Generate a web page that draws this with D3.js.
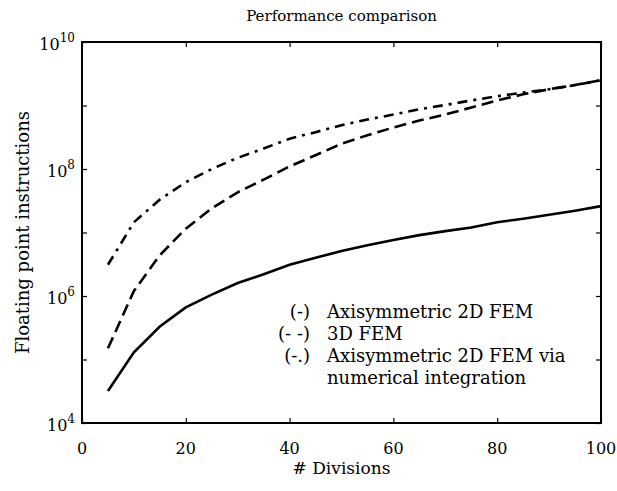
<!DOCTYPE html>
<html>
<head>
<meta charset="utf-8">
<script src="https://cdn.jsdelivr.net/npm/d3@7"></script>
<style>
    body { margin: 0; background: #fff; }
    text { font-family: "DejaVu Serif", "Liberation Serif", serif; fill: #000; }
</style>
</head>
<body>
<svg id="chart" width="617" height="491" viewBox="0 0 617 491"></svg>
<script>
// number of divisions
const divisions = [5, 10, 15, 20, 25, 30, 35, 40, 45, 50, 55, 60, 65, 70, 75, 80, 85, 90, 95, 100]

// floating point instructions
const axi_2d = [3.2e4, 1.3e5, 3.3e5, 6.6e5, 1.05e6, 1.6e6, 2.2e6, 3.1e6, 4.0e6, 5.1e6,
    6.3e6, 7.6e6, 9.1e6, 1.05e7, 1.2e7, 1.45e7, 1.65e7, 1.9e7, 2.2e7, 2.6e7]
const fem_3d = [1.5e5, 1.2e6, 4.4e6, 1.15e7, 2.4e7, 4.3e7, 6.8e7, 1.1e8, 1.65e8, 2.5e8,
    3.4e8, 4.5e8, 5.8e8, 7.2e8, 9.3e8, 1.2e9, 1.5e9, 1.8e9, 2.1e9, 2.5e9]
const axi_2d_numint = [3.1e6, 1.45e7, 3.3e7, 6.2e7, 1.0e8, 1.5e8, 2.1e8, 3.0e8, 3.8e8, 4.9e8,
    6.0e8, 7.2e8, 8.7e8, 1.02e9, 1.2e9, 1.4e9, 1.6e9, 1.8e9, 2.1e9, 2.5e9]

const x_ticks = [0, 20, 40, 60, 80, 100]
const y_ticks = [1e4, 1e5, 1e6, 1e7, 1e8, 1e9, 1e10]
const y_labels = [4, 6, 8, 10]   // exponents that get a label

const legend_marks = ["(-)", "(- -)", "(-.)", ""]
const legend_texts = ["Axisymmetric 2D FEM", "3D FEM", "Axisymmetric 2D FEM via", "numerical integration"]

const svg = d3.select("#chart")
const margin = {top: 42, right: 16, bottom: 68, left: 82}
const width = 617 - margin.left - margin.right
const height = 491 - margin.top - margin.bottom

const main_group = svg.append("g")
    .attr("transform", `translate(${margin.left},${margin.top})`)

const x = d3.scaleLinear().domain([0, 100]).range([0, width])
const y = d3.scaleLog().domain([1e4, 1e10]).range([height, 0])

// ticks pointing inwards on all four sides
const tick_len = 5
main_group.append("g")
    .attr("transform", `translate(0,${height})`)
    .call(d3.axisBottom(x).tickValues(x_ticks).tickSizeInner(-tick_len).tickSizeOuter(0).tickFormat(""))
main_group.append("g")
    .call(d3.axisTop(x).tickValues(x_ticks).tickSizeInner(-tick_len).tickSizeOuter(0).tickFormat(""))
main_group.append("g")
    .call(d3.axisLeft(y).tickValues(y_ticks).tickSizeInner(-tick_len).tickSizeOuter(0).tickFormat(""))
main_group.append("g")
    .attr("transform", `translate(${width},0)`)
    .call(d3.axisRight(y).tickValues(y_ticks).tickSizeInner(-tick_len).tickSizeOuter(0).tickFormat(""))
main_group.selectAll(".domain").remove()
main_group.selectAll(".tick line").attr("stroke", "#000").attr("stroke-width", 1.2)

// frame
main_group.append("rect")
    .attr("width", width)
    .attr("height", height)
    .attr("fill", "none")
    .attr("stroke", "#000")
    .attr("stroke-width", 2)

// x tick labels
main_group.selectAll(".xlab")
    .data(x_ticks)
    .enter()
    .append("text")
    .attr("x", d => x(d))
    .attr("y", height + 31)
    .attr("text-anchor", "middle")
    .style("font-size", "16px")
    .text(d => d)

// y tick labels, 10 with a superscript
const ylab = main_group.selectAll(".ylab")
    .data(y_labels)
    .enter()
    .append("text")
    .attr("x", -7)
    .attr("y", d => y(Math.pow(10, d)) + 8)
    .attr("text-anchor", "end")
    .style("font-size", "16px")
ylab.append("tspan").text("10")
ylab.append("tspan")
    .attr("dy", -8)
    .style("font-size", "12px")
    .text(d => d)

// curves
const series = [
    {values: axi_2d, dash: null},
    {values: fem_3d, dash: "12,6"},
    {values: axi_2d_numint, dash: "10,6,3,6"}
]
const line = d3.line()
    .x(d => x(d[0]))
    .y(d => y(d[1]))

main_group.selectAll(".curve")
    .data(series)
    .enter()
    .append("path")
    .attr("class", "curve")
    .attr("d", s => line(divisions.map((n, i) => [n, s.values[i]])))
    .attr("fill", "none")
    .attr("stroke", "#000")
    .attr("stroke-width", 2.6)
    .attr("stroke-dasharray", s => s.dash)

// legend, written as text like in the original
const legend = main_group.append("g")
    .attr("transform", `translate(${310 - margin.left},${318 - margin.top})`)
legend.selectAll(".mark")
    .data(legend_marks)
    .enter()
    .append("text")
    .attr("x", 0)
    .attr("y", (d, i) => i * 22)
    .attr("text-anchor", "end")
    .style("font-size", "18px")
    .text(d => d)
legend.selectAll(".entry")
    .data(legend_texts)
    .enter()
    .append("text")
    .attr("x", 17)
    .attr("y", (d, i) => i * 22)
    .style("font-size", "18px")
    .text(d => d)

// titles
svg.append("text")
    .attr("x", margin.left + width / 2)
    .attr("y", 21)
    .attr("text-anchor", "middle")
    .style("font-size", "15px")
    .text("Performance comparison")

svg.append("text")
    .attr("x", margin.left + width / 2)
    .attr("y", 474)
    .attr("text-anchor", "middle")
    .style("font-size", "17px")
    .text("# Divisions")

svg.append("text")
    .attr("transform", `translate(29,${margin.top + height / 2}) rotate(-90)`)
    .attr("text-anchor", "middle")
    .style("font-size", "18px")
    .text("Floating point instructions")
</script>
</body>
</html>
